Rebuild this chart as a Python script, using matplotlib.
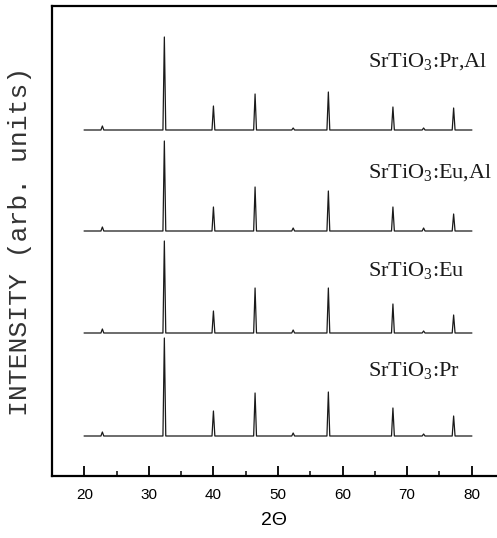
import matplotlib
matplotlib.use("Agg")
import matplotlib.pyplot as plt
from matplotlib.ticker import MultipleLocator

# ---- data ----
samples = ["SrTiO$_3$:Pr", "SrTiO$_3$:Eu", "SrTiO$_3$:Eu,Al", "SrTiO$_3$:Pr,Al"]
offsets = [40, 143, 245, 346]                      # vertical shift of each pattern (arb. units)
label_y = [100, 200, 298, 409]                     # baseline of each sample label
peak_pos = [22.8, 32.4, 40.0, 46.45, 52.35, 57.8, 67.8, 72.55, 77.2]
h_pr   = [4, 98, 25, 43, 3, 44, 28, 2, 20]
h_eu   = [4, 92, 22, 45, 3, 45, 29, 2, 18]
h_eual = [4, 90, 24, 44, 3, 40, 24, 3, 17]
h_pral = [4, 93, 24, 36, 2, 38, 23, 2, 22]
heights = [h_pr, h_eu, h_eual, h_pral]
x_start, x_end = 20.0, 80.0
x_ticks = [20, 30, 40, 50, 60, 70, 80]

plt.rcParams['mathtext.fontset'] = 'custom'
plt.rcParams['mathtext.rm'] = 'Liberation Serif'
plt.rcParams['mathtext.it'] = 'Liberation Serif:italic'

fig = plt.figure(figsize=(4.97, 5.38), dpi=100)
ax = fig.add_axes([52/497, 62/538, 1 - 52/497, 470/538])

hw = 0.22
for off, hs, lab, ly in zip(offsets, heights, samples, label_y):
    xs = [x_start]
    ys = [off]
    for p, h in zip(peak_pos, hs):
        xs += [p - hw, p, p + hw]
        ys += [off, off + h, off]
    xs.append(x_end)
    ys.append(off)
    ax.plot(xs, ys, color='#1a1a1a', lw=0.9)
    ax.text(63.9, ly, lab, fontsize=16, family='Liberation Serif',
            ha='left', va='baseline', color='#1a1a1a')

ax.set_xlim(15, 15 + 445/6.457)
ax.set_ylim(0, 470)

for s in ['left', 'bottom', 'top']:
    ax.spines[s].set_linewidth(1.6)
ax.spines['right'].set_visible(False)

ax.set_xticks(x_ticks)
ax.xaxis.set_minor_locator(MultipleLocator(5))
ax.tick_params(axis='x', which='major', direction='in', length=7.5, width=1.3, pad=8.5)
ax.tick_params(axis='x', which='minor', direction='in', length=3.8, width=1.1)
ax.set_yticks([])
for t in ax.get_xticklabels():
    t.set_family('Liberation Sans')
    t.set_fontsize(11)

ax.set_xlabel("2\u0398", family='Liberation Sans', fontsize=14, labelpad=7)
ax.set_ylabel("INTENSITY (arb. units)", family='Liberation Mono', fontsize=19,
              color='#333333')
ax.yaxis.set_label_coords(-0.045, 0.5)

fig.savefig("out.png", dpi=100)
